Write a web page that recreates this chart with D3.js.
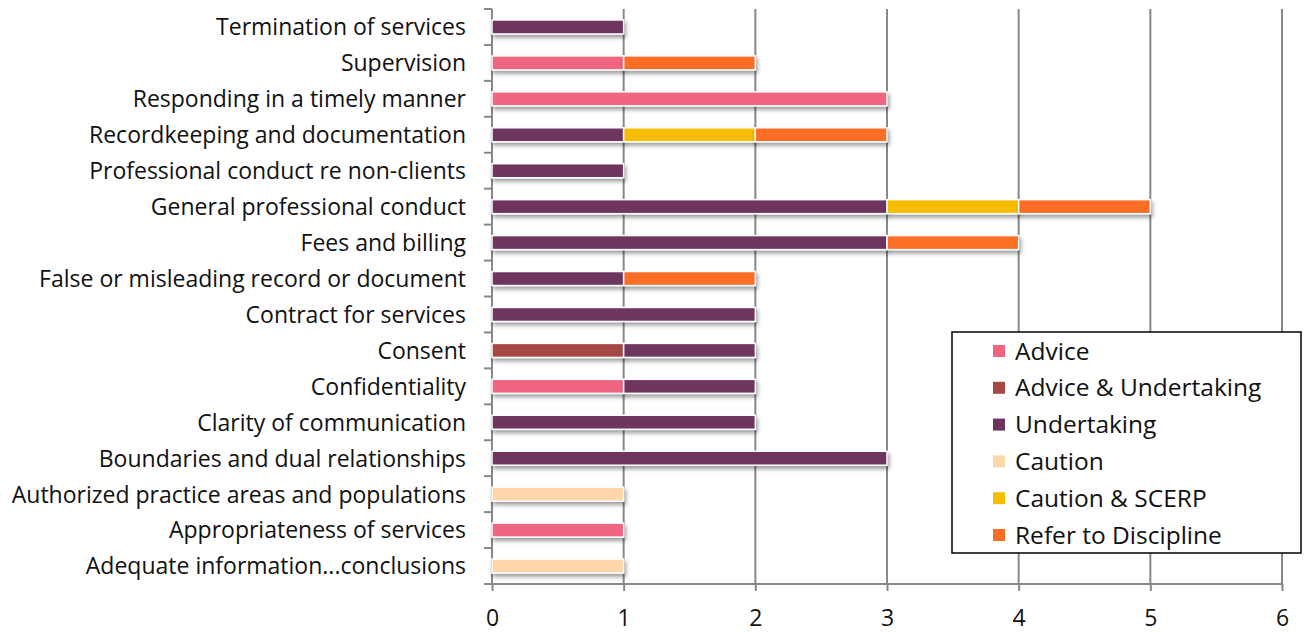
<!DOCTYPE html>
<html>
<head>
<meta charset="utf-8">
<script src="https://cdn.jsdelivr.net/npm/d3@7"></script>
<style>
  body { margin: 0; background: #fff; }
  svg text { font-family: "Open Sans", Lato, sans-serif; fill: #111; }
</style>
</head>
<body>
<svg id="chart" width="1306" height="632"></svg>
<script>
// categories, top to bottom
var categories = [
  "Termination of services",
  "Supervision",
  "Responding in a timely manner",
  "Recordkeeping and documentation",
  "Professional conduct re non-clients",
  "General professional conduct",
  "Fees and billing",
  "False or misleading record or document",
  "Contract for services",
  "Consent",
  "Confidentiality",
  "Clarity of communication",
  "Boundaries and dual relationships",
  "Authorized practice areas and populations",
  "Appropriateness of services",
  "Adequate information...conclusions"
];
var seriesNames = ["Advice", "Advice & Undertaking", "Undertaking", "Caution", "Caution & SCERP", "Refer to Discipline"];
var seriesColors = ["#f0657f", "#a64845", "#6d3460", "#fed6a9", "#f5bc00", "#fc6d25"];

// one array per series, in category order
var advice            = [0, 1, 3, 0, 0, 0, 0, 0, 0, 0, 1, 0, 0, 0, 1, 0];
var adviceUndertaking = [0, 0, 0, 0, 0, 0, 0, 0, 0, 1, 0, 0, 0, 0, 0, 0];
var undertaking       = [1, 0, 0, 1, 1, 3, 3, 1, 2, 1, 1, 2, 3, 0, 0, 0];
var caution           = [0, 0, 0, 0, 0, 0, 0, 0, 0, 0, 0, 0, 0, 1, 0, 1];
var cautionScerp      = [0, 0, 0, 1, 0, 1, 0, 0, 0, 0, 0, 0, 0, 0, 0, 0];
var referDiscipline   = [0, 1, 0, 1, 0, 1, 1, 1, 0, 0, 0, 0, 0, 0, 0, 0];
var xTicks = [0, 1, 2, 3, 4, 5, 6];

var seriesValues = [advice, adviceUndertaking, undertaking, caution, cautionScerp, referDiscipline];

var rows = categories.map(function(c, i) {
  var r = { cat: c };
  seriesNames.forEach(function(s, k) { r[s] = seriesValues[k][i]; });
  return r;
});

var svg = d3.select("#chart");
var plotL = 492, plotR = 1282, plotT = 9, plotB = 584;
var labelFont = 23;

var x = d3.scaleLinear().domain([0, 6]).range([plotL, plotR]);
var y = d3.scaleBand().domain(categories).range([plotT, plotB]);

// shadow filter
var defs = svg.append("defs");
var f = defs.append("filter").attr("id", "shadow")
  .attr("x", "-5%").attr("y", "-50%").attr("width", "115%").attr("height", "250%");
f.append("feDropShadow").attr("dx", 1.5).attr("dy", 3).attr("stdDeviation", 2)
  .attr("flood-color", "#000").attr("flood-opacity", 0.4);

// vertical gridlines
svg.append("g").selectAll("line")
  .data(xTicks.slice(1))
  .join("line")
  .attr("x1", function(d) { return x(d); })
  .attr("x2", function(d) { return x(d); })
  .attr("y1", plotT).attr("y2", plotB)
  .attr("stroke", "#888").attr("stroke-width", 2);

// bottom axis
var xAxis = svg.append("g").attr("transform", "translate(0," + plotB + ")")
  .call(d3.axisBottom(x).tickValues(xTicks).tickFormat(d3.format("d")).tickSize(7).tickPadding(19));
xAxis.select(".domain").attr("d", "M" + (plotL - 8) + ",0H" + plotR).attr("stroke", "#888").attr("stroke-width", 2);
xAxis.selectAll(".tick line").attr("stroke", "#888").attr("stroke-width", 2);
xAxis.selectAll(".tick text").attr("font-size", labelFont).attr("fill", "#111")
  .attr("font-family", "'Open Sans', Lato, sans-serif");

// left axis with boundary ticks
var yAxis = svg.append("g").attr("transform", "translate(" + plotL + ",1)")
  .call(d3.axisLeft(y).tickSize(0).tickPadding(26));
yAxis.select(".domain").remove();
yAxis.selectAll(".tick text").attr("font-size", labelFont).attr("fill", "#111")
  .attr("font-family", "'Open Sans', Lato, sans-serif");
svg.append("line").attr("x1", plotL).attr("x2", plotL).attr("y1", plotT).attr("y2", plotB)
  .attr("stroke", "#888").attr("stroke-width", 2);
svg.append("g").selectAll("line")
  .data(categories)
  .join("line")
  .attr("x1", plotL - 8).attr("x2", plotL)
  .attr("y1", function(d) { return y(d); })
  .attr("y2", function(d) { return y(d); })
  .attr("stroke", "#888").attr("stroke-width", 2);

// stacked bars
var stack = d3.stack().keys(seriesNames)(rows);
var barH = 14;
var layers = svg.append("g").selectAll("g")
  .data(stack)
  .join("g")
  .attr("fill", function(d, i) { return seriesColors[i]; });
layers.selectAll("rect")
  .data(function(d) { return d.filter(function(p) { return p[1] - p[0] > 0; }); })
  .join("rect")
  .attr("x", function(p) { return x(p[0]); })
  .attr("width", function(p) { return x(p[1]) - x(p[0]); })
  .attr("y", function(p) { return y(p.data.cat) + y.bandwidth() / 2 - barH / 2; })
  .attr("height", barH)
  .attr("stroke", "#fff").attr("stroke-width", 1.5)
  .attr("filter", "url(#shadow)");

// legend
var lg = svg.append("g");
lg.append("rect").attr("x", 952).attr("y", 332).attr("width", 349).attr("height", 221)
  .attr("fill", "#fff").attr("stroke", "#000").attr("stroke-width", 1.5);
var item = lg.selectAll("g.item")
  .data(seriesNames)
  .join("g").attr("class", "item")
  .attr("transform", function(d, i) { return "translate(993," + (351 + i * 36.8) + ")"; });
item.append("rect").attr("x", 0).attr("y", -6).attr("width", 12).attr("height", 12)
  .attr("fill", function(d, i) { return seriesColors[i]; });
item.append("text").attr("x", 22).attr("dy", "0.35em").attr("font-size", 24.5)
  .text(function(d) { return d; });
</script>
</body>
</html>
